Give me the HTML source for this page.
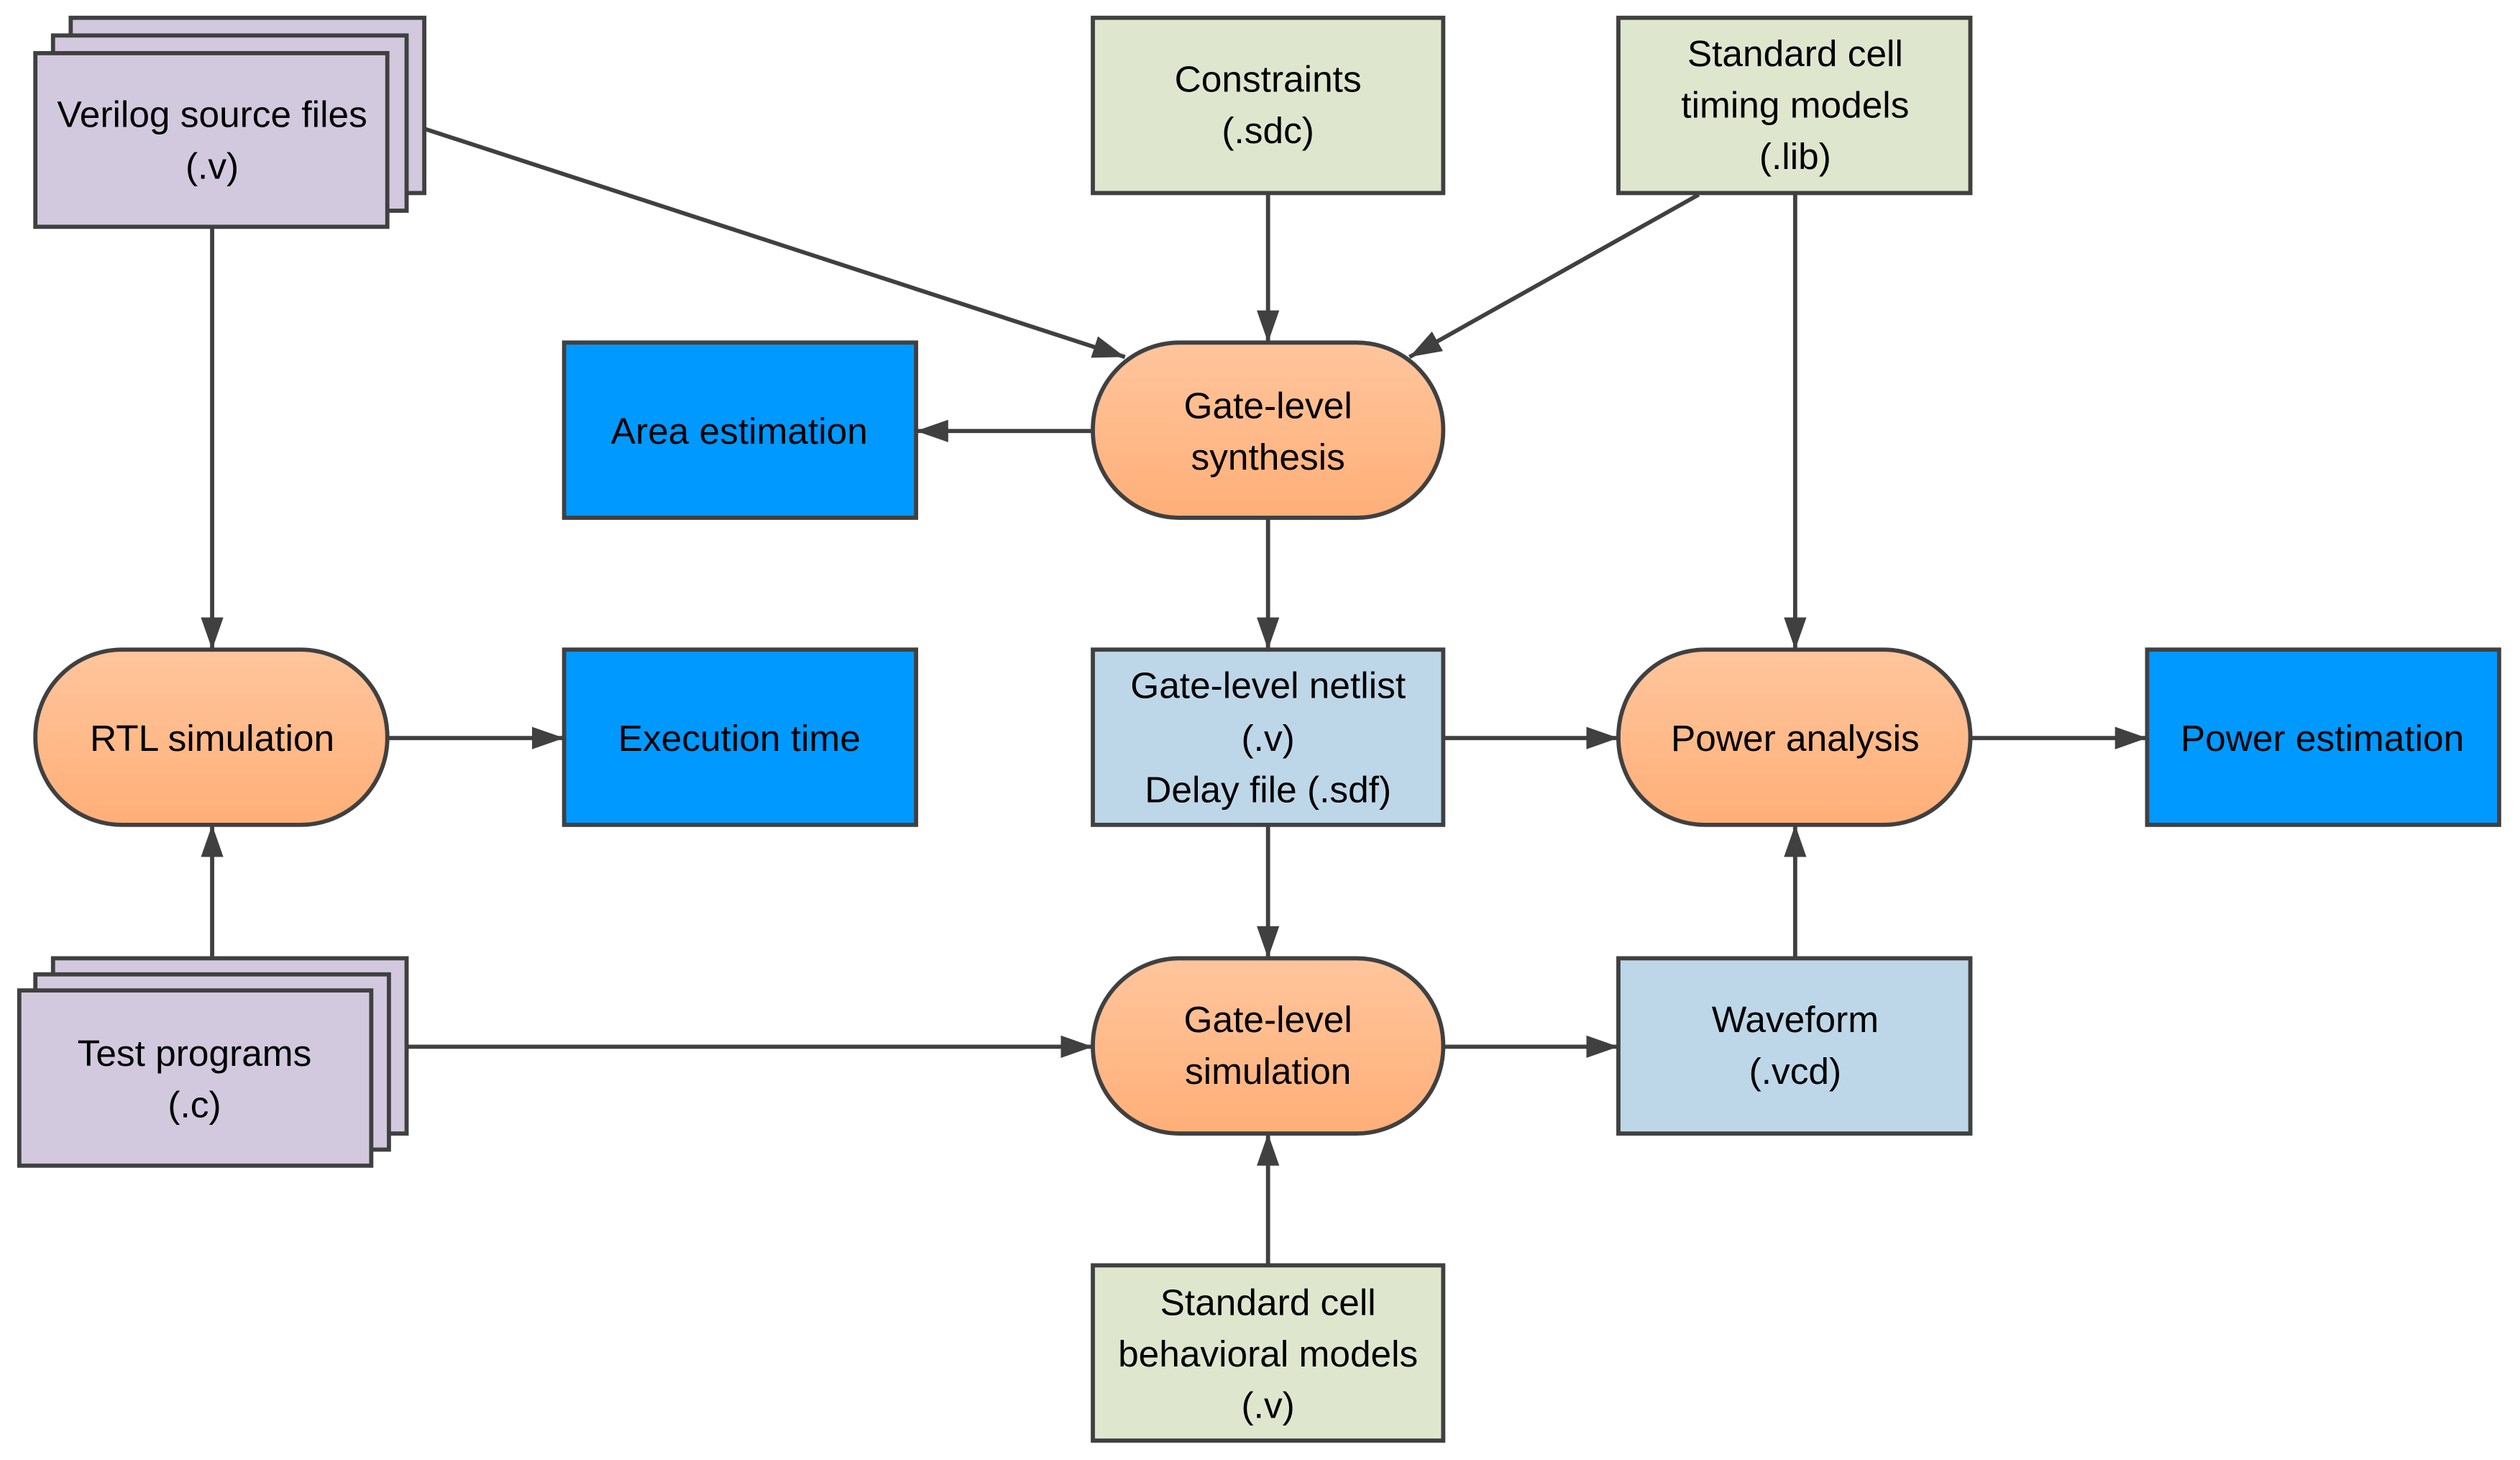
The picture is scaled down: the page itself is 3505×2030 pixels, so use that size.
<!DOCTYPE html>
<html><head><meta charset="utf-8"><style>
html,body{margin:0;padding:0;background:#fff;}
svg{display:block;}
text{font-family:"Liberation Sans",sans-serif;font-size:23px;fill:#000;text-anchor:middle;}
</style></head><body>
<svg width="3505" height="2030" viewBox="0 0 1568 908" xmlns="http://www.w3.org/2000/svg">
<defs>
<linearGradient id="g" x1="0" y1="0" x2="0" y2="1"><stop offset="0" stop-color="#ffc59c"/><stop offset="1" stop-color="#ffaf78"/></linearGradient>
<marker id="a" viewBox="0 0 20 14" refX="20" refY="7" markerWidth="20" markerHeight="14" markerUnits="userSpaceOnUse" orient="auto"><path d="M0,0 L20,7 L0,14 Z" fill="#404040"/></marker>
</defs>
<g stroke="#404040" stroke-width="2.6" fill="none">
<line x1="264" y1="80" x2="700" y2="222" marker-end="url(#a)"/>
<line x1="789" y1="120" x2="789" y2="213" marker-end="url(#a)"/>
<line x1="1057" y1="121" x2="877" y2="222" marker-end="url(#a)"/>
<line x1="680" y1="268" x2="570" y2="268" marker-end="url(#a)"/>
<line x1="789" y1="322" x2="789" y2="404" marker-end="url(#a)"/>
<line x1="132" y1="141" x2="132" y2="404" marker-end="url(#a)"/>
<line x1="1117" y1="120" x2="1117" y2="404" marker-end="url(#a)"/>
<line x1="241" y1="459" x2="351" y2="459" marker-end="url(#a)"/>
<line x1="898" y1="459" x2="1007" y2="459" marker-end="url(#a)"/>
<line x1="1226" y1="459" x2="1336" y2="459" marker-end="url(#a)"/>
<line x1="789" y1="513" x2="789" y2="596" marker-end="url(#a)"/>
<line x1="132" y1="606" x2="132" y2="513" marker-end="url(#a)"/>
<line x1="253" y1="651" x2="680" y2="651" marker-end="url(#a)"/>
<line x1="898" y1="651" x2="1007" y2="651" marker-end="url(#a)"/>
<line x1="1117" y1="596" x2="1117" y2="513" marker-end="url(#a)"/>
<line x1="789" y1="787" x2="789" y2="705" marker-end="url(#a)"/>
</g>
<g stroke="#404040" stroke-width="2.6">
<rect x="44" y="11" width="220" height="109" fill="#d2c9de"/>
<rect x="33" y="22" width="220" height="109" fill="#d2c9de"/>
<rect x="22" y="33" width="219" height="108" fill="#d2c9de"/>
<rect x="33" y="596" width="220" height="109" fill="#d2c9de"/>
<rect x="22" y="606" width="220" height="109" fill="#d2c9de"/>
<rect x="12" y="616" width="219" height="109" fill="#d2c9de"/>
<rect x="680" y="11" width="218" height="109" fill="#dfe6ce"/>
<rect x="1007" y="11" width="219" height="109" fill="#dfe6ce"/>
<rect x="680" y="787" width="218" height="109" fill="#dfe6ce"/>
<rect x="351" y="213" width="219" height="109" fill="#0099ff"/>
<rect x="351" y="404" width="219" height="109" fill="#0099ff"/>
<rect x="1336" y="404" width="219" height="109" fill="#0099ff"/>
<rect x="680" y="404" width="218" height="109" fill="#bdd7e8"/>
<rect x="1007" y="596" width="219" height="109" fill="#bdd7e8"/>
<rect x="680" y="213" width="218" height="109" rx="54" ry="54" fill="url(#g)"/>
<rect x="22" y="404" width="219" height="109" rx="54" ry="54" fill="url(#g)"/>
<rect x="1007" y="404" width="219" height="109" rx="54" ry="54" fill="url(#g)"/>
<rect x="680" y="596" width="218" height="109" rx="54" ry="54" fill="url(#g)"/>
</g>
<text x="132" y="79">Verilog source files</text>
<text x="132" y="111">(.v)</text>
<text x="789" y="57">Constraints</text>
<text x="789" y="89">(.sdc)</text>
<text x="1117" y="41">Standard cell</text>
<text x="1117" y="73">timing models</text>
<text x="1117" y="105">(.lib)</text>
<text x="460" y="276">Area estimation</text>
<text x="789" y="260">Gate-level</text>
<text x="789" y="292">synthesis</text>
<text x="132" y="467">RTL simulation</text>
<text x="460" y="467">Execution time</text>
<text x="789" y="434">Gate-level netlist</text>
<text x="789" y="467">(.v)</text>
<text x="789" y="499">Delay file (.sdf)</text>
<text x="1117" y="467">Power analysis</text>
<text x="1445" y="467">Power estimation</text>
<text x="121" y="663">Test programs</text>
<text x="121" y="695">(.c)</text>
<text x="789" y="642">Gate-level</text>
<text x="789" y="674">simulation</text>
<text x="1117" y="642">Waveform</text>
<text x="1117" y="674">(.vcd)</text>
<text x="789" y="818">Standard cell</text>
<text x="789" y="850">behavioral models</text>
<text x="789" y="882">(.v)</text>
</svg>
</body></html>
